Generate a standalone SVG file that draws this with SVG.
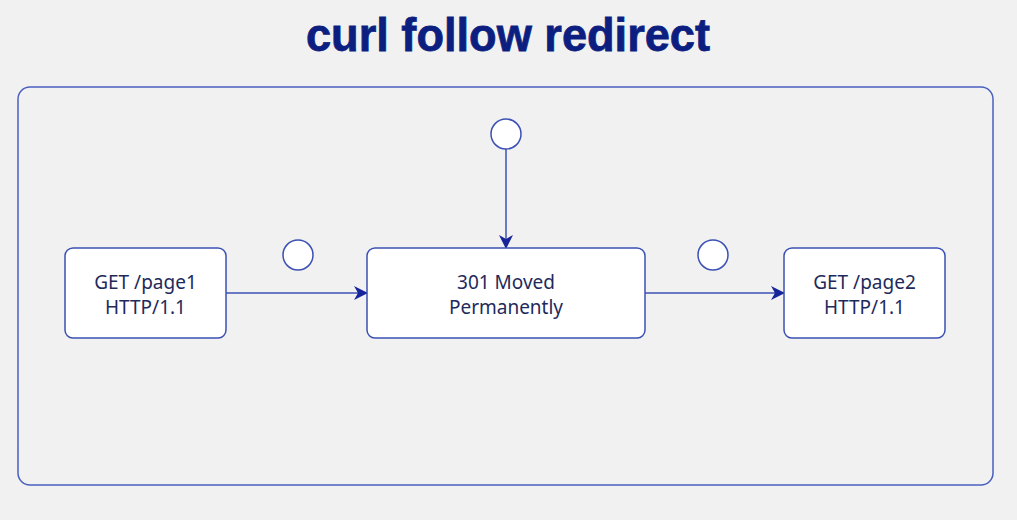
<svg xmlns="http://www.w3.org/2000/svg" width="1017" height="520" viewBox="0 0 1017 520">
<defs>
<marker id="arr" viewBox="0 0 14 14" refX="13" refY="7" markerWidth="14" markerHeight="14" markerUnits="userSpaceOnUse" orient="auto">
<path d="M0,0 L14,7 L0,14 L4,7 Z" fill="#16269a"/>
</marker>
</defs>
<style>
.node{fill:#ffffff;stroke:#3b50b4;stroke-width:1.5}
.dot{fill:#ffffff;stroke:#3b50b4;stroke-width:1.5}
.lbl{font-family:"Noto Sans","Liberation Sans",sans-serif;font-size:19px;fill:#1e2a5c;text-anchor:middle}
.edge{stroke:#3b50b4;stroke-width:1.5;fill:none}
</style>
<rect width="1017" height="520" fill="#f1f1f1"/>
<text x="508" y="51" font-family="Liberation Sans, Arial, sans-serif" font-weight="bold" font-size="46" fill="#0c1f80" stroke="#0c1f80" stroke-width="0.8" text-anchor="middle" textLength="404" lengthAdjust="spacingAndGlyphs">curl follow redirect</text>
<rect id="frame" x="18" y="87" width="975" height="398" rx="12" fill="none" stroke="#4a5fc0" stroke-width="1.5"/>
<g id="connectors">
<line class="edge" x1="226" y1="293" x2="367" y2="293" marker-end="url(#arr)"/>
<line class="edge" x1="645" y1="293" x2="784" y2="293" marker-end="url(#arr)"/>
<line class="edge" x1="506" y1="149" x2="506" y2="248" marker-end="url(#arr)"/>
</g>
<g id="n1">
<rect class="node" x="65" y="248" width="161" height="90" rx="8"/>
<text class="lbl" x="145.5" y="289">GET /page1</text>
<text class="lbl" x="145.5" y="314">HTTP/1.1</text>
</g>
<g id="n2">
<rect class="node" x="367" y="248" width="278" height="90" rx="8"/>
<text class="lbl" x="506" y="289">301 Moved</text>
<text class="lbl" x="506" y="314">Permanently</text>
</g>
<g id="n3">
<rect class="node" x="784" y="248" width="161" height="90" rx="8"/>
<text class="lbl" x="864.5" y="289">GET /page2</text>
<text class="lbl" x="864.5" y="314">HTTP/1.1</text>
</g>
<g id="c1"><circle class="dot" cx="298" cy="255" r="15"/></g>
<g id="c2"><circle class="dot" cx="506" cy="134" r="15"/></g>
<g id="c3"><circle class="dot" cx="713" cy="255" r="15"/></g>
</svg>
